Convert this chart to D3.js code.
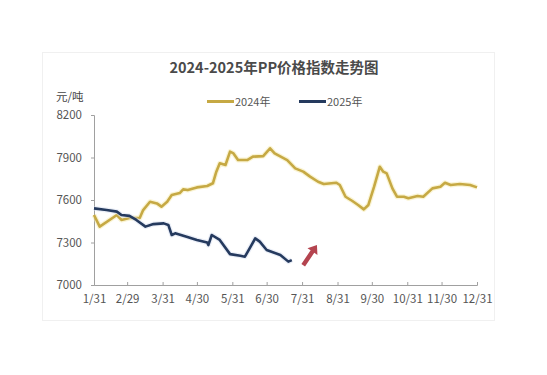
<!DOCTYPE html>
<html>
<head>
<meta charset="utf-8">
<script src="https://cdn.jsdelivr.net/npm/d3@7/dist/d3.min.js"></script>
<style>
  body { margin: 0; background: #fff; }
  svg { display: block; font-family: "Noto Sans CJK SC", "Noto Sans", sans-serif; }
</style>
</head>
<body>
<svg id="chart" width="547" height="375"></svg>
<script>
// tick labels on the x axis (month ends)
var tickLabels = ["1/31", "2/29", "3/31", "4/30", "5/31", "6/30", "7/31", "8/31", "9/30", "10/31", "11/30", "12/31"];
var yTicks = [7000, 7300, 7600, 7900, 8200];

// 2024 index
var dates2024 = ["1/31", "2/5", "2/20", "2/24", "3/2", "3/11", "3/14", "3/20", "3/26", "3/30",
    "4/4", "4/8", "4/15", "4/18", "4/22", "4/30", "5/9", "5/14", "5/17", "5/20",
    "5/25", "5/29", "6/1", "6/5", "6/13", "6/18", "6/27", "7/3", "7/7", "7/18",
    "7/25", "8/1", "8/7", "8/14", "8/19", "8/30", "9/2", "9/7", "9/13", "9/18",
    "9/23", "9/27", "10/2", "10/7", "10/10", "10/13", "10/18", "10/22", "10/28", "11/1",
    "11/9", "11/14", "11/22", "11/29", "12/3", "12/8", "12/16", "12/25", "12/31"];
var values2024 = [7494, 7412, 7494, 7459, 7473, 7473, 7529, 7588, 7576, 7553,
    7588, 7635, 7649, 7675, 7670, 7689, 7699, 7718, 7800, 7859,
    7847, 7941, 7929, 7882, 7882, 7906, 7910, 7965, 7929, 7882,
    7823, 7800, 7765, 7729, 7713, 7722, 7706, 7623, 7593, 7565,
    7534, 7565, 7694, 7835, 7800, 7788, 7682, 7623, 7623, 7612,
    7628, 7623, 7682, 7694, 7722, 7706, 7713, 7706, 7689];

// 2025 index
var dates2025 = ["1/31", "2/11", "2/20", "2/24", "3/2", "3/8", "3/16", "3/23", "4/1", "4/5",
    "4/8", "4/11", "4/21", "4/30", "5/9", "5/10", "5/13", "5/20", "5/29", "6/7",
    "6/11", "6/16", "6/20", "6/24", "6/30", "7/12", "7/19", "7/22"];
var values2025 = [7541, 7529, 7518, 7494, 7488, 7459, 7412, 7430, 7435, 7424,
    7353, 7365, 7341, 7318, 7300, 7282, 7353, 7318, 7218, 7206,
    7200, 7271, 7329, 7306, 7247, 7212, 7165, 7176];

var seriesNames = ["2024年", "2025年"];
var seriesColors = ["#c6a944", "#253a5e"];

// both years drawn on one month/day axis
function toDate(md)
{
    var p = md.split("/");
    return new Date(2024, +p[0] - 1, +p[1]);
}

function zip(dates, values)
{
    return dates.map(function (d, i) { return { date: toDate(d), value: values[i] }; });
}

var svg = d3.select("#chart");

// faint card border
svg.append("rect")
    .attr("x", 42.5).attr("y", 52.5)
    .attr("width", 452).attr("height", 268)
    .attr("fill", "none")
    .attr("stroke", "#f0f0f0");

var x = d3.scaleTime()
    .domain([toDate("1/31"), toDate("12/31")])
    .range([94, 477]);

var y = d3.scaleLinear()
    .domain([7000, 8200])
    .range([285, 115]);

svg.append("text")
    .attr("x", 274).attr("y", 73)
    .attr("text-anchor", "middle")
    .attr("font-size", 14.5)
    .attr("font-weight", "bold")
    .attr("fill", "#4a4a4a")
    .text("2024-2025年PP价格指数走势图");

svg.append("text")
    .attr("x", 56).attr("y", 101)
    .attr("font-size", 11.5)
    .attr("fill", "#444")
    .text("元/吨");

// legend
var legend = svg.append("g").attr("font-size", 11).attr("fill", "#555");
[207, 299].forEach(function (lx, i) {
    legend.append("line")
        .attr("x1", lx).attr("x2", lx + 27)
        .attr("y1", 101.5).attr("y2", 101.5)
        .attr("stroke", seriesColors[i])
        .attr("stroke-width", 3);
    legend.append("text")
        .attr("x", lx + 28).attr("y", 105.5)
        .text(seriesNames[i]);
});

// y axis
var yAxis = svg.append("g")
    .attr("transform", "translate(94,0)")
    .call(d3.axisLeft(y).tickValues(yTicks).tickFormat(d3.format("d")).tickSize(3).tickPadding(9));
yAxis.selectAll("text").attr("font-size", 11.5).attr("fill", "#555").attr("font-family", "\"Noto Sans CJK SC\", sans-serif");

// x axis, ticks point up into the plot
var xAxis = svg.append("g")
    .attr("transform", "translate(0,285)")
    .call(d3.axisBottom(x)
        .tickValues(tickLabels.map(toDate))
        .tickFormat(function (d, i) { return tickLabels[i]; })
        .tickSize(-3)
        .tickPadding(10));
xAxis.selectAll("text").attr("font-size", 11.5).attr("fill", "#555").attr("font-family", "\"Noto Sans CJK SC\", sans-serif");

svg.selectAll(".domain, .tick line").attr("stroke", "#a0a0a0");

var line = d3.line()
    .x(function (d) { return x(d.date); })
    .y(function (d) { return y(d.value); });

[zip(dates2024, values2024), zip(dates2025, values2025)].forEach(function (data, i) {
    // soft halo like the jpeg
    svg.append("path")
        .datum(data)
        .attr("d", line)
        .attr("fill", "none")
        .attr("stroke", i == 0 ? "#f5e9a8" : "#d6def0")
        .attr("stroke-width", 5)
        .attr("stroke-opacity", 0.5)
        .attr("stroke-linejoin", "round");
    svg.append("path")
        .datum(data)
        .attr("d", line)
        .attr("fill", "none")
        .attr("stroke", seriesColors[i])
        .attr("stroke-width", 2.6)
        .attr("stroke-linejoin", "round");
});

// red arrow annotation, placed on the chart's scales
var ax0 = x(toDate("8/1")), ay0 = y(7140);
var ax1 = x(toDate("8/13")), ay1 = y(7283);
var ang = Math.atan2(ay1 - ay0, ax1 - ax0) * 180 / Math.PI;
var len = Math.hypot(ax1 - ax0, ay1 - ay0);
svg.append("path")
    .attr("transform", "translate(" + ax0 + "," + ay0 + ") rotate(" + ang + ")")
    .attr("d", "M0,-2.2 L" + (len - 8) + ",-2.2 L" + (len - 8) + ",-6 L" + len + ",0 L" + (len - 8) + ",6 L" + (len - 8) + ",2.2 L0,2.2 Z")
    .attr("fill", "#b4444f");
</script>
</body>
</html>
